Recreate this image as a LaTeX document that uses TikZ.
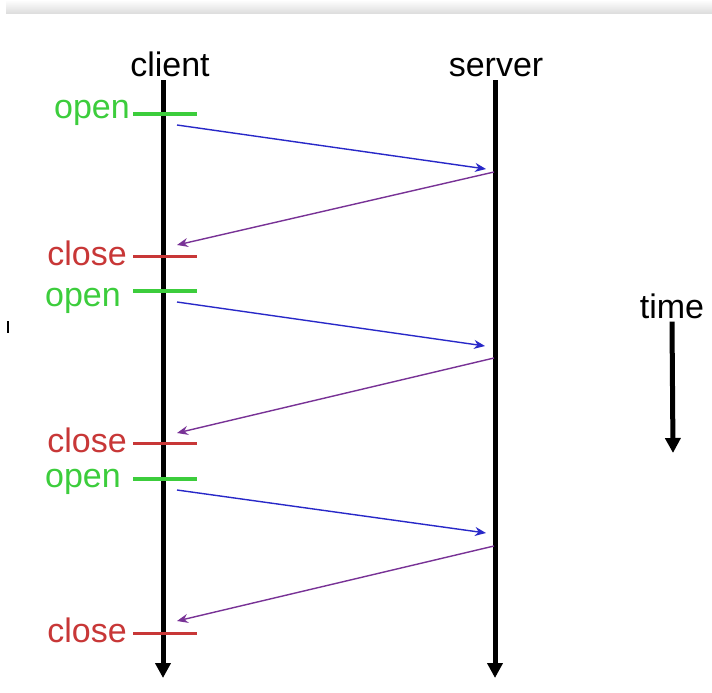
\documentclass[tikz,border=0pt]{standalone}
\usepackage{fontspec}
\setmainfont{Liberation Sans}
\usetikzlibrary{arrows.meta}
\definecolor{opengreen}{RGB}{60,205,60}
\definecolor{closered}{RGB}{200,55,55}
\definecolor{reqblue}{RGB}{40,40,200}
\definecolor{resppurple}{RGB}{120,50,150}
\begin{document}
\begin{tikzpicture}[x=1pt,y=-1pt,
  lbl/.style={font=\fontsize{34}{40}\selectfont, inner sep=0pt},
  lifeline/.style={line width=5pt, -{Triangle[width=15pt,length=15pt]}},
  opentick/.style={opengreen, line width=3.5pt},
  closetick/.style={closered, line width=3pt},
  request/.style={reqblue, line width=1.4pt, -{Stealth[width=9pt,length=11pt]}},
  reply/.style={resppurple, line width=1.4pt, -{Stealth[width=9pt,length=11pt]}}]
\useasboundingbox (0,0) rectangle (712,693);
\fill[white] (0,0) rectangle (712,693);
% shaded strip along the top edge
\shade[top color=white, bottom color=black!14] (6,0) rectangle (712,14);
\draw[black, line width=2pt] (8,321) -- (8,333);

% participants
\node[lbl, anchor=base] (client) at (170,77) {client};
\node[lbl, anchor=base] (server) at (496,77) {server};
\coordinate (ctop) at (163,80);
\coordinate (cbot) at (163,678);
\coordinate (stop) at (495,80);
\coordinate (sbot) at (495,678);
\draw[lifeline] (ctop) -- (cbot);
\draw[lifeline] (stop) -- (sbot);

% open / close marks on the client line
\foreach \n/\y/\by/\rx in {1/114/118/130, 2/291/306/121, 3/479/487/121}{
  \coordinate (o\n a) at (133,\y);
  \coordinate (o\n b) at (197,\y);
  \draw[opentick] (o\n a) -- (o\n b);
  \node[lbl, opengreen, anchor=base east] (open\n) at (\rx,\by) {open};
}
\foreach \n/\y in {1/256, 2/443, 3/633}{
  \coordinate (c\n a) at (133,\y);
  \coordinate (c\n b) at (197,\y);
  \draw[closetick] (c\n a) -- (c\n b);
  \node[lbl, closered, anchor=base east] (close\n) at (127,\y+9) {close};
}

% request / response exchanges
\coordinate (q1s) at (177,125); \coordinate (q1e) at (486,169);
\coordinate (r1s) at (494,172); \coordinate (r1e) at (177,245);
\coordinate (q2s) at (177,302); \coordinate (q2e) at (485,346);
\coordinate (r2s) at (494,358); \coordinate (r2e) at (177,433);
\coordinate (q3s) at (177,490); \coordinate (q3e) at (486,533);
\coordinate (r3s) at (494,546); \coordinate (r3e) at (177,621);
\foreach \n in {1,2,3}{
  \draw[request] (q\n s) -- (q\n e);
  \draw[reply] (r\n s) -- (r\n e);
}

% time axis
\node[lbl, anchor=base] (time) at (672,318) {time};
\coordinate (tbot) at (673,453);
\draw[lifeline] (time.south) ++(0,3) coordinate (ttop) (ttop) -- (tbot);
\end{tikzpicture}
\end{document}
